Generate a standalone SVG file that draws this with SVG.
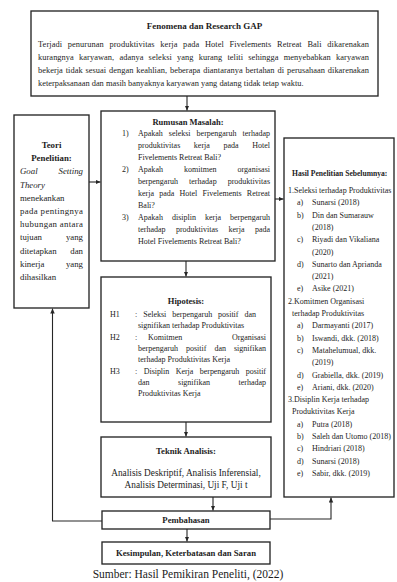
<svg xmlns="http://www.w3.org/2000/svg" width="397" height="582" viewBox="0 0 397 582">
<style>
  .box { fill: #ffffff; stroke: #262626; stroke-width: 1.35; }
  .t { font-family: "Liberation Serif", "Times New Roman", serif; fill: #1c1c1c; }
  .b { font-weight: bold; }
  .i { font-style: italic; }
  .mid { text-anchor: middle; }
  .end { text-anchor: end; }
  .f84 { font-size: 8.4px; }
  .f8 { font-size: 8px; }
  .f88 { font-size: 8.8px; }
  .conn { fill: none; stroke: #262626; stroke-width: 1.1; }
</style>
<defs>
  <marker id="ah" viewBox="0 0 10 10" refX="10" refY="5" markerWidth="5" markerHeight="5" markerUnits="userSpaceOnUse" orient="auto">
    <path d="M0,0.5 L10,5 L0,9.5 z" fill="#262626"/>
  </marker>
</defs>
<rect width="397" height="582" fill="#ffffff"/>

<g id="node-fenomena">
  <rect class="box" x="31" y="11" width="347" height="85"/>
  <text class="t b mid" x="204.5" y="29" font-size="9px">Fenomena dan Research GAP</text>
  <text class="t f84" x="38" y="47" word-spacing="3.5" textLength="331" lengthAdjust="spacing">Terjadi penurunan produktivitas kerja pada Hotel Fivelements Retreat Bali dikarenakan</text>
  <text class="t f84" x="38" y="60" word-spacing="3" textLength="331" lengthAdjust="spacing">kurangnya karyawan, adanya seleksi yang kurang teliti sehingga menyebabkan karyawan</text>
  <text class="t f84" x="38" y="73" word-spacing="0.8" textLength="331" lengthAdjust="spacing">bekerja tidak sesuai dengan keahlian, beberapa diantaranya bertahan di perusahaan dikarenakan</text>
  <text class="t f84" x="38" y="86">keterpaksanaan dan masih banyaknya karyawan yang datang tidak tetap waktu.</text>
</g>

<g id="node-teori">
  <rect class="box" x="14" y="115" width="75" height="193"/>
  <text class="t b mid f88" x="51.5" y="148">Teori</text>
  <text class="t b mid f88" x="51.5" y="161.2">Penelitian:</text>
  <text class="t i f88" x="20" y="174.4">Goal</text>
  <text class="t i end f88" x="83" y="174.4">Setting</text>
  <text class="t i f88" x="20" y="187.6">Theory</text>
  <text class="t f88" x="20" y="200.8">menekankan</text>
  <text class="t f88" x="20" y="214" textLength="63" lengthAdjust="spacing">pada pentingnya</text>
  <text class="t f88" x="20" y="227.2" textLength="63" lengthAdjust="spacing">hubungan antara</text>
  <text class="t f88" x="20" y="240.4">tujuan</text>
  <text class="t end f88" x="83" y="240.4">yang</text>
  <text class="t f88" x="20" y="253.6">ditetapkan</text>
  <text class="t end f88" x="83" y="253.6">dan</text>
  <text class="t f88" x="20" y="266.8">kinerja</text>
  <text class="t end f88" x="83" y="266.8">yang</text>
  <text class="t f88" x="20" y="280">dihasilkan</text>
</g>

<g id="node-rumusan">
  <rect class="box" x="101" y="111" width="174" height="150"/>
  <text class="t b mid" x="188" y="125" font-size="8.5px">Rumusan Masalah:</text>
  <text class="t f8" x="122" y="136">1)</text>
  <text class="t f8" x="138" y="136" word-spacing="4" textLength="132" lengthAdjust="spacing">Apakah seleksi berpengaruh terhadap</text>
  <text class="t f8" x="138" y="148" word-spacing="11.6" textLength="132" lengthAdjust="spacing">produktivitas kerja pada Hotel</text>
  <text class="t f8" x="138" y="160">Fivelements Retreat Bali?</text>
  <text class="t f8" x="122" y="172">2)</text>
  <text class="t f8" x="138" y="172" word-spacing="19" textLength="132" lengthAdjust="spacing">Apakah komitmen organisasi</text>
  <text class="t f8" x="138" y="184" word-spacing="9" textLength="132" lengthAdjust="spacing">berpengaruh terhadap produktivitas</text>
  <text class="t f8" x="138" y="196" word-spacing="3.2" textLength="132" lengthAdjust="spacing">kerja pada Hotel Fivelements Retreat</text>
  <text class="t f8" x="138" y="208">Bali?</text>
  <text class="t f8" x="122" y="220">3)</text>
  <text class="t f8" x="138" y="220" word-spacing="7" textLength="132" lengthAdjust="spacing">Apakah disiplin kerja berpengaruh</text>
  <text class="t f8" x="138" y="232" word-spacing="8.4" textLength="132" lengthAdjust="spacing">terhadap produktivitas kerja pada</text>
  <text class="t f8" x="138" y="244">Hotel Fivelements Retreat Bali?</text>
</g>

<g id="node-hipotesis">
  <rect class="box" x="101" y="277" width="170" height="145"/>
  <text class="t b mid" x="186" y="304" font-size="8.5px">Hipotesis:</text>
  <text class="t f8" x="110" y="317">H1</text>
  <text class="t f8" x="135" y="317" word-spacing="4" textLength="121" lengthAdjust="spacing">: Seleksi berpengaruh positif dan</text>
  <text class="t f8" x="138" y="328.3">signifikan terhadap Produktivitas</text>
  <text class="t f8" x="110" y="339.6">H2</text>
  <text class="t f8" x="135" y="339.6">:</text>
  <text class="t f8" x="148" y="339.6">Komitmen</text>
  <text class="t end f8" x="266" y="339.6">Organisasi</text>
  <text class="t f8" x="138" y="350.9" word-spacing="6" textLength="128" lengthAdjust="spacing">berpengaruh positif dan signifikan</text>
  <text class="t f8" x="138" y="362.2">terhadap Produktivitas Kerja</text>
  <text class="t f8" x="110" y="373.5">H3</text>
  <text class="t f8" x="135" y="373.5" word-spacing="4.6" textLength="131" lengthAdjust="spacing">: Disiplin Kerja berpengaruh positif</text>
  <text class="t f8" x="138" y="384.8" word-spacing="26.5" textLength="128" lengthAdjust="spacing">dan signifikan terhadap</text>
  <text class="t f8" x="138" y="396.1">Produktivitas Kerja</text>
</g>

<g id="node-teknik">
  <rect class="box" x="101" y="437" width="170" height="60"/>
  <text class="t b mid" x="186" y="454" font-size="8.7px">Teknik Analisis:</text>
  <text class="t mid" x="186" y="476" font-size="9.3px">Analisis Deskriptif, Analisis Inferensial,</text>
  <text class="t mid" x="186" y="488" font-size="9.3px">Analisis Determinasi, Uji F, Uji t</text>
</g>

<g id="node-pembahasan">
  <rect class="box" x="102" y="511" width="168" height="18"/>
  <text class="t b mid" x="186" y="523" font-size="8.7px">Pembahasan</text>
</g>

<g id="node-kesimpulan">
  <rect class="box" x="102" y="542" width="168" height="22"/>
  <text class="t b mid" x="186" y="556" font-size="8.7px">Kesimpulan, Keterbatasan dan Saran</text>
</g>

<g id="node-hasil">
  <rect class="box" x="284" y="138" width="110" height="359"/>
  <text class="t b" x="292" y="176" font-size="7.6px">Hasil Penelitian Sebelumnya:</text>
  <text class="t f8" x="288" y="193">1.Seleksi terhadap Produktivitas</text>
  <text class="t f8" x="297" y="205.3">a)</text><text class="t f8" x="312" y="205.3">Sunarsi (2018)</text>
  <text class="t f8" x="297" y="217.6">b)</text><text class="t f8" x="312" y="217.6">Din dan Sumarauw</text>
  <text class="t f8" x="312" y="229.9">(2018)</text>
  <text class="t f8" x="297" y="242.2">c)</text><text class="t f8" x="312" y="242.2">Riyadi dan Vikaliana</text>
  <text class="t f8" x="312" y="254.5">(2020)</text>
  <text class="t f8" x="297" y="266.8">d)</text><text class="t f8" x="312" y="266.8">Sunarto dan Aprianda</text>
  <text class="t f8" x="312" y="279.1">(2021)</text>
  <text class="t f8" x="297" y="291.4">e)</text><text class="t f8" x="312" y="291.4">Asike (2021)</text>
  <text class="t f8" x="288" y="303.7">2.Komitmen Organisasi</text>
  <text class="t f8" x="292" y="316">terhadap Produktivitas</text>
  <text class="t f8" x="297" y="328.3">a)</text><text class="t f8" x="312" y="328.3">Darmayanti (2017)</text>
  <text class="t f8" x="297" y="340.6">b)</text><text class="t f8" x="312" y="340.6">Iswandi, dkk. (2018)</text>
  <text class="t f8" x="297" y="352.9">c)</text><text class="t f8" x="312" y="352.9">Matahelumual, dkk.</text>
  <text class="t f8" x="312" y="365.2">(2019)</text>
  <text class="t f8" x="297" y="377.5">d)</text><text class="t f8" x="312" y="377.5">Grabiella, dkk. (2019)</text>
  <text class="t f8" x="297" y="389.8">e)</text><text class="t f8" x="312" y="389.8">Ariani, dkk. (2020)</text>
  <text class="t f8" x="288" y="402.1">3.Disiplin Kerja terhadap</text>
  <text class="t f8" x="292" y="414.4">Produktivitas Kerja</text>
  <text class="t f8" x="297" y="426.7">a)</text><text class="t f8" x="312" y="426.7">Putra (2018)</text>
  <text class="t f8" x="297" y="439">b)</text><text class="t f8" x="312" y="439">Saleh dan Utomo (2018)</text>
  <text class="t f8" x="297" y="451.3">c)</text><text class="t f8" x="312" y="451.3">Hindriari (2018)</text>
  <text class="t f8" x="297" y="463.6">d)</text><text class="t f8" x="312" y="463.6">Sunarsi (2018)</text>
  <text class="t f8" x="297" y="475.9">e)</text><text class="t f8" x="312" y="475.9">Sabir, dkk. (2019)</text>
</g>

<g id="connectors">
  <line class="conn" x1="187" y1="96" x2="187" y2="110.5" marker-end="url(#ah)"/>
  <line class="conn" x1="89" y1="182" x2="100.5" y2="182" marker-end="url(#ah)"/>
  <line class="conn" x1="275" y1="199" x2="283.5" y2="199" marker-end="url(#ah)"/>
  <line class="conn" x1="186" y1="261" x2="186" y2="276.5" marker-end="url(#ah)"/>
  <line class="conn" x1="186" y1="422" x2="186" y2="436.5" marker-end="url(#ah)"/>
  <line class="conn" x1="213" y1="497" x2="213" y2="510.5" marker-end="url(#ah)"/>
  <line class="conn" x1="187" y1="529" x2="187" y2="541.5" marker-end="url(#ah)"/>
  <polyline class="conn" points="102,521 52.5,521 52.5,308.5" marker-end="url(#ah)"/>
  <polyline class="conn" points="270,519 331,519 331,497.5" marker-end="url(#ah)"/>
</g>

<g id="caption">
  <text class="t mid" x="188" y="578" font-size="11.5px" fill="#2e2e2e">Sumber: Hasil Pemikiran Peneliti, (2022)</text>
</g>
</svg>
